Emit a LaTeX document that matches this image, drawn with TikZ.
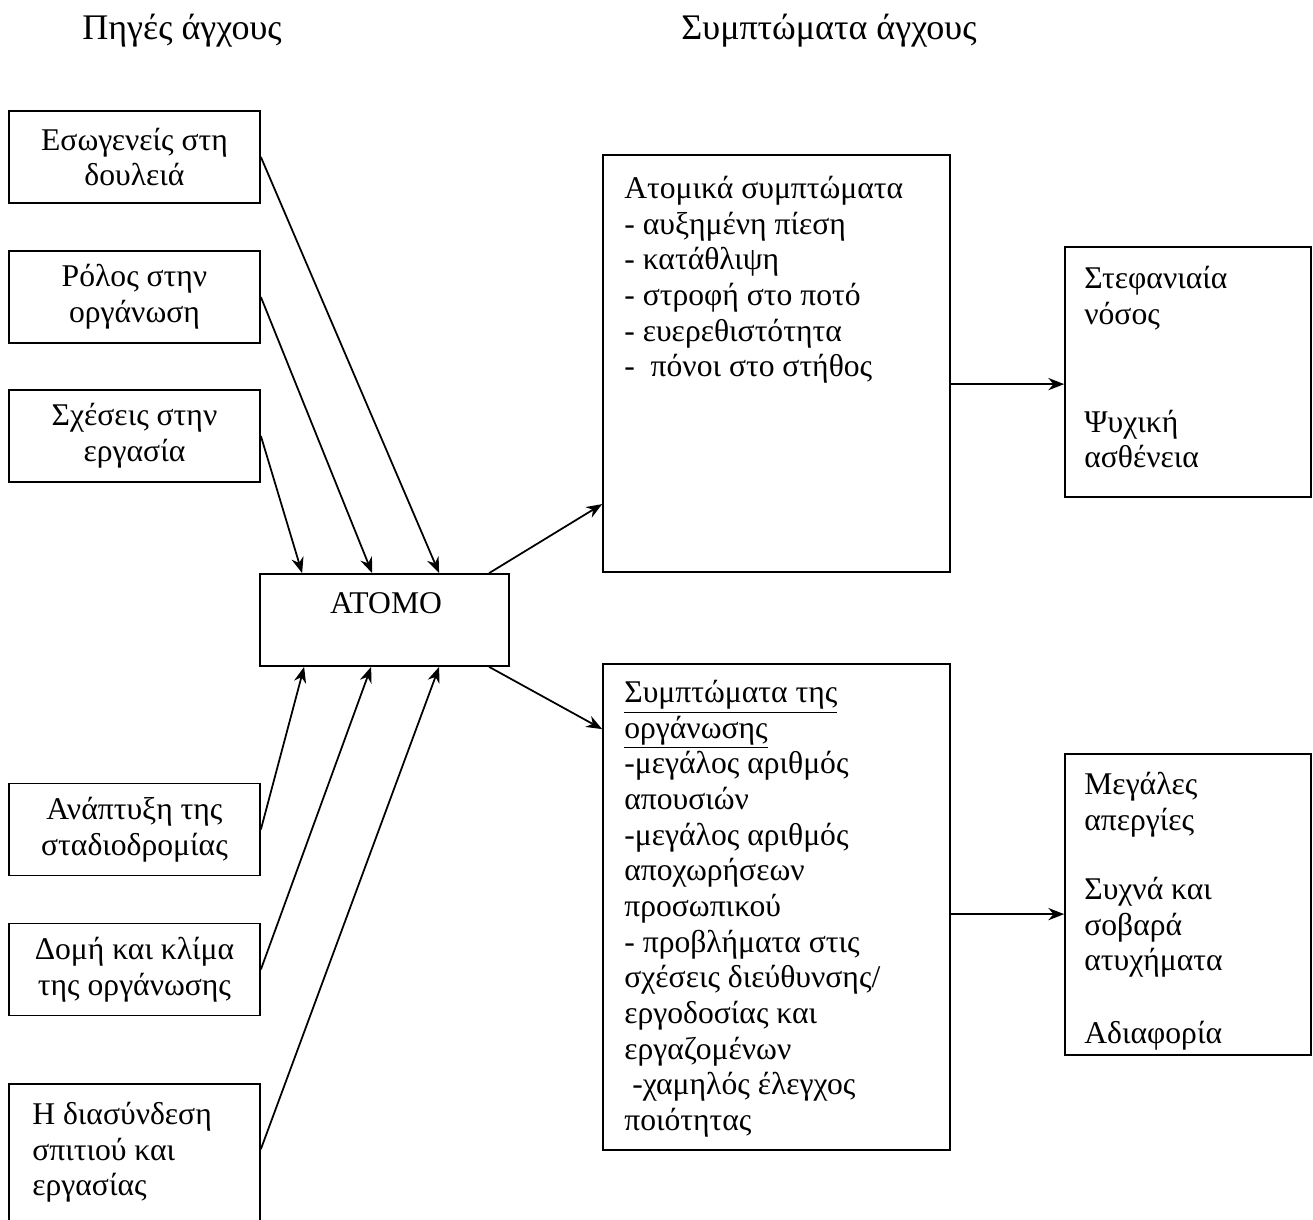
\documentclass[tikz,border=0pt]{standalone}
\usepackage{fontspec}
\setmainfont{Liberation Serif}
\usetikzlibrary{arrows.meta,calc}
\newcommand{\pxu}{0.02cm}

\tikzset{
  srcbox/.style={draw, line width=1pt, minimum width=251*\pxu, minimum height=92*\pxu, align=center, inner sep=0pt},
  frame/.style={draw, line width=1pt, inner sep=0pt},
  txt/.style={align=left, inner sep=0pt, anchor=north west},
  head/.style={font=\fontsize{20.5}{24}\selectfont},
  arr/.style={draw, line width=1pt, -{Stealth[length=9pt,width=7pt]}},
}

\begin{document}
\begin{tikzpicture}[x=0.02cm, y=-0.02cm, font=\fontsize{18}{20.3}\selectfont]
\path[use as bounding box] (0,0) rectangle (1313,1220);
\clip (0,0) rectangle (1313,1220);

% headings
\node[head] (srchead) at (182,31) {Πηγές άγχους};
\node[head] (symhead) at (829,31) {Συμπτώματα άγχους};

% sources of stress
\node[srcbox] (endo) at (134.5,157) {Εσωγενείς στη\\δουλειά};
\node[srcbox] (role) at (134.5,297) {Ρόλος στην\\οργάνωση};
\node[srcbox] (rel) at (134.5,436) {Σχέσεις στην\\εργασία};
\node[srcbox] (career) at (134.5,829.5) {Ανάπτυξη της\\σταδιοδρομίας};
\node[srcbox] (climate) at (134.5,969.5) {Δομή και κλίμα\\της οργάνωσης};
\node[srcbox, minimum height=160*\pxu] (home) at (134.5,1164) {};
\node[txt] (hometxt) at (32,1102) {Η διασύνδεση\\σπιτιού και\\εργασίας};

% the individual
\node[frame, minimum width=249*\pxu, minimum height=92*\pxu] (atomo) at (384.5,620) {};
\node (atomotxt) at (386,603) {ΑΤΟΜΟ};

% symptoms
\node[frame, minimum width=347*\pxu, minimum height=417*\pxu] (indiv) at (776.5,363.5) {};
\node[txt] (indivtxt) at (624,176) {Ατομικά συμπτώματα\\- αυξημένη πίεση\\- κατάθλιψη\\- στροφή στο ποτό\\- ευερεθιστότητα\\-\ \ πόνοι στο στήθος};

\node[frame, minimum width=347*\pxu, minimum height=486*\pxu] (org) at (776.5,907) {};
\node[txt] (orgtxt) at (624,680) {\underline{Συμπτώματα της}\\\underline{οργάνωσης}\\-μεγάλος αριθμός\\απουσιών\\-μεγάλος αριθμός\\αποχωρήσεων\\προσωπικού\\- προβλήματα στις\\σχέσεις διεύθυνσης/\\εργοδοσίας και\\εργαζομένων\\\ -χαμηλός έλεγχος\\ποιότητας};

% outcomes
\node[frame, minimum width=246*\pxu, minimum height=250*\pxu] (health) at (1188,372) {};
\node[txt] (healthtxt) at (1084,266) {Στεφανιαία\\νόσος\\[41pt]Ψυχική\\ασθένεια};

\node[frame, minimum width=246*\pxu, minimum height=301*\pxu] (work) at (1188,904.5) {};
\node[txt] (worktxt) at (1084,772) {Μεγάλες\\απεργίες\\[19pt]Συχνά και\\σοβαρά\\ατυχήματα\\[21pt]Αδιαφορία};

% arrows into the individual
\path[arr] (endo.east) -- ($(atomo.north west)+(180,0)$);
\path[arr] (role.east) -- ($(atomo.north west)+(113,0)$);
\path[arr] (rel.east) -- ($(atomo.north west)+(43,0)$);
\path[arr] (career.east) -- ($(atomo.south west)+(45,0)$);
\path[arr] (climate.east) -- ($(atomo.south west)+(112,0)$);
\path[arr] ($(home.north east)+(0,66)$) -- ($(atomo.south west)+(180,0)$);

% arrows to the symptoms
\path[arr] ($(atomo.north west)+(230,0)$) -- ($(indiv.north west)+(0,350)$);
\path[arr] ($(atomo.south west)+(230,0)$) -- ($(org.north west)+(0,66)$);
\path[arr] ($(indiv.north east)+(0,230)$) -- ($(health.north west)+(0,138)$);
\path[arr] ($(org.north east)+(0,251)$) -- ($(work.north west)+(0,161)$);
\end{tikzpicture}
\end{document}
